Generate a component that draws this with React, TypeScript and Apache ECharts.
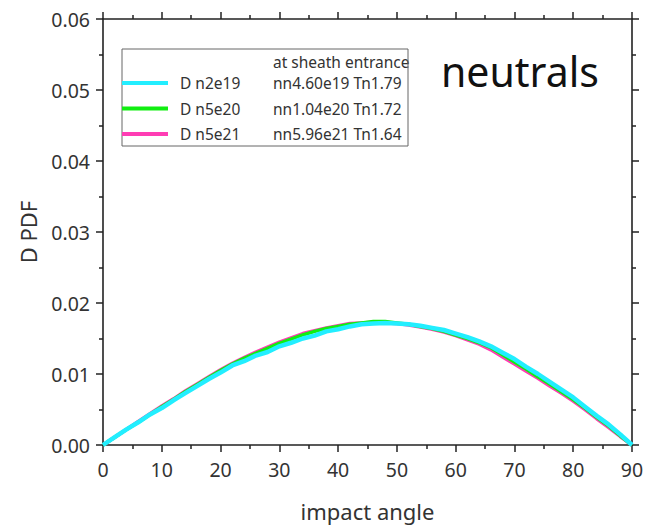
import React, { useEffect, useRef } from "react";
import * as echarts from "echarts";

const angles = [0, 2, 4, 6, 8, 10, 12, 14, 16, 18, 20, 22, 24, 26, 28, 30, 32, 34, 36, 38, 40, 42, 44, 46, 48, 50, 52, 54, 56, 58, 60, 62, 64, 66, 68, 70, 72, 74, 76, 78, 80, 82, 84, 86, 88, 90];

const pdfN2e19 = [0, 0.0011, 0.0022, 0.0032, 0.0043, 0.0052, 0.0063, 0.0073, 0.0083, 0.0093, 0.0102, 0.0112, 0.0118, 0.0126, 0.0131, 0.0139, 0.0144, 0.0150, 0.0154, 0.0160, 0.0163, 0.0167, 0.0170, 0.0171, 0.0172, 0.0171, 0.0170, 0.0168, 0.0165, 0.0162, 0.0157, 0.0152, 0.0146, 0.0139, 0.0130, 0.0121, 0.0110, 0.0100, 0.0089, 0.0078, 0.0067, 0.0054, 0.0041, 0.0029, 0.0015, 0];
const pdfN5e20 = [0, 0.0011, 0.0022, 0.0032, 0.0043, 0.0054, 0.0064, 0.0075, 0.0085, 0.0095, 0.0105, 0.0114, 0.0122, 0.0129, 0.0136, 0.0143, 0.0149, 0.0155, 0.0160, 0.0164, 0.0167, 0.0170, 0.0172, 0.0174, 0.0174, 0.0172, 0.0170, 0.0167, 0.0164, 0.0160, 0.0155, 0.0150, 0.0144, 0.0137, 0.0127, 0.0117, 0.0107, 0.0096, 0.0086, 0.0075, 0.0064, 0.0052, 0.0039, 0.0027, 0.0013, 0];
const pdfN5e21 = [0, 0.0011, 0.0022, 0.0033, 0.0044, 0.0055, 0.0065, 0.0076, 0.0086, 0.0096, 0.0106, 0.0115, 0.0123, 0.0131, 0.0138, 0.0145, 0.0151, 0.0157, 0.0161, 0.0165, 0.0168, 0.0171, 0.0172, 0.0173, 0.0172, 0.0171, 0.0169, 0.0166, 0.0163, 0.0159, 0.0154, 0.0148, 0.0142, 0.0134, 0.0124, 0.0114, 0.0104, 0.0094, 0.0083, 0.0073, 0.0062, 0.0050, 0.0037, 0.0025, 0.0012, 0];

const seriesNames = ["D n2e19", "D n5e20", "D n5e21"];
const seriesNotes = ["nn4.60e19 Tn1.79", "nn1.04e20 Tn1.72", "nn5.96e21 Tn1.64"];
const seriesColors = ["#22eeff", "#11ee11", "#ff3db4"];
const legendHeader = "at sheath entrance";
const panelTitle = "neutrals";
const xTitle = "impact angle";
const yTitle = "D PDF";

const FONT = "Noto Sans";

export default function App() {
  const ref = useRef<HTMLDivElement>(null);
  useEffect(() => {
    if (!ref.current) return;
    const chart = echarts.init(ref.current, undefined, { renderer: "svg" });
    const values = [pdfN2e19, pdfN5e20, pdfN5e21];
    const widths = [4.5, 3.5, 3.5];
    const series = [2, 1, 0].map((i) => ({
      name: seriesNames[i],
      type: "line",
      data: angles.map((a, k) => [a, values[i][k]]),
      showSymbol: false,
      symbol: "none",
      lineStyle: { color: seriesColors[i], width: widths[i] },
      itemStyle: { color: seriesColors[i] },
      z: 2 + (2 - i),
    }));
    const mkLine = () => ({ show: true, onZero: false, lineStyle: { color: "#222", width: 1.6 } });
    const mkTick = () => ({ show: true, inside: false, length: 7, lineStyle: { color: "#222", width: 1.5 } });
    const mkMinor = () => ({ show: true, splitNumber: 2, length: 4, lineStyle: { color: "#222", width: 1.5 } });
    chart.setOption({
      animation: false,
      textStyle: { fontFamily: FONT },
      grid: { left: 103, right: 14, top: 19, bottom: 81, containLabel: false, outerBoundsMode: "none" },
      xAxis: [
        {
          type: "value", min: 0, max: 90, interval: 10, position: "bottom",
          name: xTitle, nameLocation: "middle", nameGap: 55,
          nameTextStyle: { fontSize: 22, color: "#333", fontFamily: FONT },
          axisLine: mkLine(), axisTick: mkTick(), minorTick: mkMinor(), splitLine: { show: false }, minorSplitLine: { show: false },
          axisLabel: { fontSize: 19.5, color: "#333", margin: 14, fontFamily: FONT },
        },
        {
          type: "value", min: 0, max: 90, interval: 10, position: "top",
          axisLine: mkLine(), axisTick: mkTick(), minorTick: mkMinor(), splitLine: { show: false }, minorSplitLine: { show: false },
          axisLabel: { show: false },
        },
      ],
      yAxis: [
        {
          type: "value", min: 0, max: 0.06, interval: 0.01, position: "left",
          name: yTitle, nameLocation: "middle", nameGap: 64,
          nameTextStyle: { fontSize: 22, color: "#333", fontFamily: FONT },
          axisLine: mkLine(), axisTick: mkTick(), minorTick: mkMinor(), splitLine: { show: false }, minorSplitLine: { show: false },
          axisLabel: { fontSize: 19.5, color: "#333", margin: 13, fontFamily: FONT, formatter: (v: number) => v.toFixed(2) },
        },
        {
          type: "value", min: 0, max: 0.06, interval: 0.01, position: "right",
          axisLine: mkLine(), axisTick: mkTick(), minorTick: mkMinor(), splitLine: { show: false }, minorSplitLine: { show: false },
          axisLabel: { show: false },
        },
      ],
      legend: {
        data: seriesNames.map((n) => ({ name: n, icon: "rect" })),
        orient: "vertical",
        left: 122,
        top: 75,
        padding: 0,
        itemWidth: 46,
        itemHeight: 4,
        itemGap: 9.5,
        formatter: (name: string) => {
          const i = seriesNames.indexOf(name);
          return `{a|${name}}{b|${seriesNotes[i]}}`;
        },
        textStyle: {
          fontFamily: FONT,
          color: "#333",
          rich: {
            a: { fontSize: 15.5, width: 93, padding: [0, 0, 0, 7], color: "#333", fontFamily: FONT },
            b: { fontSize: 15.5, color: "#333", fontFamily: FONT },
          },
        },
      },
      graphic: [
        {
          type: "rect",
          shape: { x: 122, y: 49, width: 286, height: 97 },
          style: { fill: "none", stroke: "#666", lineWidth: 1 },
          z: 1,
        },
        {
          type: "text",
          x: 273, y: 62,
          style: { text: legendHeader, fontSize: 15.5, fill: "#333", fontFamily: FONT, verticalAlign: "middle" },
        },
        {
          type: "text",
          x: 441, y: 71,
          style: { text: panelTitle, fontSize: 41, fill: "#111", fontFamily: FONT, verticalAlign: "middle" },
        },
      ],
      series,
    });
    return () => chart.dispose();
  }, []);
  return <div ref={ref} style={{ position: "fixed", left: 0, top: 0, width: 646, height: 526, background: "#fff" }} />;
}
